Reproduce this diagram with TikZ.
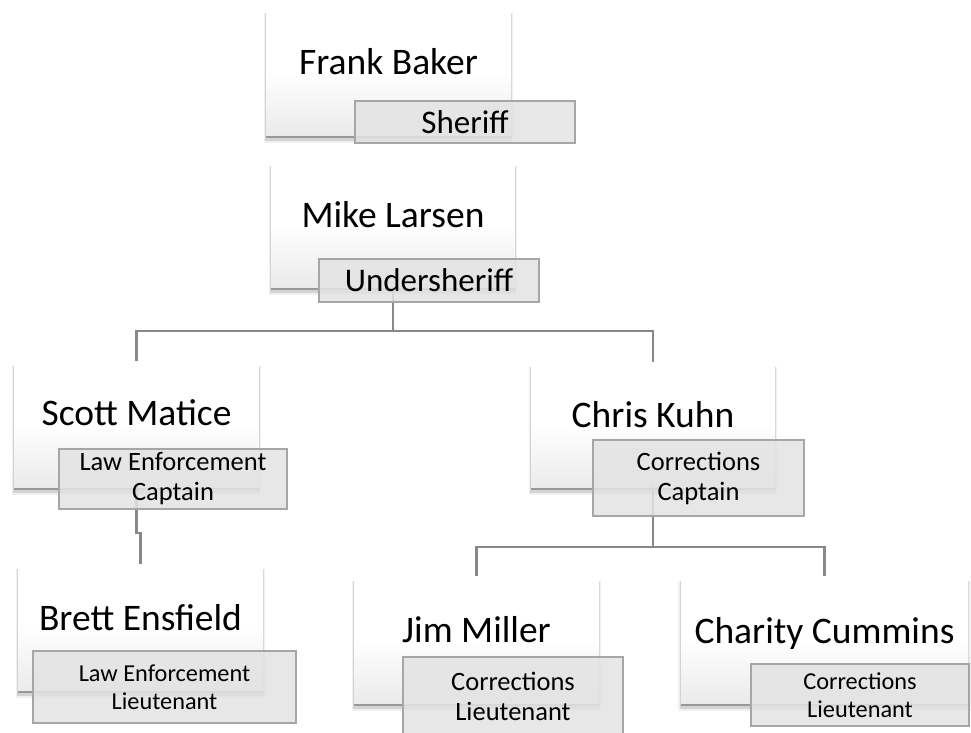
\documentclass[tikz,border=0pt]{standalone}
\usepackage{fontspec}
\setmainfont{Carlito}
\usetikzlibrary{shadows}
\definecolor{conncol}{RGB}{136,136,136}
\definecolor{titleedge}{RGB}{166,166,166}
\newcommand\nmfont{\fontsize{37.5}{44}\selectfont}
\newcommand\ttafont{\fontsize{33}{38}\selectfont}
\newcommand\ttbfont{\fontsize{26.5}{30}\selectfont}
\newcommand\ttcfont{\fontsize{24.3}{27.5}\selectfont}
\begin{document}
\begin{tikzpicture}[x=1pt,y=-1pt,
  person/.style={inner sep=0pt, draw=none,
    general shadow={fill=black, opacity=0.06, shadow xshift=0pt, shadow yshift=-6.5pt, shadow scale=1.02},
    general shadow={fill=black, opacity=0.12, shadow xshift=0pt, shadow yshift=-5pt, shadow scale=1.008},
    general shadow={fill=black, opacity=0.28, shadow xshift=0pt, shadow yshift=-3.5pt, shadow scale=0.998},
    top color=white, bottom color=black!8, middle color=white},
  nm/.style={inner sep=0pt, anchor=base, font=\nmfont, text=black},
  ttl/.style={draw=titleedge, line width=1.3pt, fill=black!11, fill opacity=0.85,
    text opacity=1, align=center, inner sep=0pt, text=black},
  conn/.style={draw=conncol, line width=2.2pt}]
\useasboundingbox (0,0) rectangle (971,732);

% person boxes
\node[person, minimum width=245pt, minimum height=127pt] (frank) at (388.5,71.5) {};
\node[person, minimum width=244pt, minimum height=126pt] (mike) at (393,224) {};
\node[person, minimum width=245pt, minimum height=126pt] (scott) at (136.5,424) {};
\node[person, minimum width=244pt, minimum height=125pt] (chris) at (653,424.5) {};
\node[person, minimum width=245pt, minimum height=126pt] (brett) at (140.5,627) {};
\node[person, minimum width=245pt, minimum height=127pt] (jim) at (476.5,639.5) {};
\node[person, minimum width=287pt, minimum height=127pt] (charity) at (824.5,639.5) {};

% connectors
\coordinate (j1) at (393,331);
\coordinate (j2) at (653,547);
\draw[conn] (mike.south) -- (j1) -| (scott.north);
\draw[conn] (j1) -| (chris.north);
\draw[conn] (scott.south) -- ++(0,46) -| (brett.north);
\draw[conn] (chris.south) -- (j2) -| (jim.north);
\draw[conn] (j2) -| (charity.north);

% names
\node[nm] (frankN) at (388.5,74) {Frank Baker};
\node[nm] (mikeN) at (393,227) {Mike Larsen};
\node[nm] (scottN) at (136.5,425) {Scott Matice};
\node[nm] (chrisN) at (653,427) {Chris Kuhn};
\node[nm] (brettN) at (140.5,630) {Brett Ensfield};
\node[nm] (jimN) at (476.5,642) {Jim Miller};
\node[nm] (charityN) at (824.5,643) {Charity Cummins};

% titles
\node[ttl, font=\ttafont, minimum width=220pt, minimum height=42pt] (frankT) at (465,122) {Sheriff};
\node[ttl, font=\ttafont, minimum width=220pt, minimum height=43pt] (mikeT) at (429,280.5) {Undersheriff};
\node[ttl, font=\ttbfont, minimum width=228pt, minimum height=60pt] (scottT) at (173,479) {Law Enforcement\\Captain};
\node[ttl, font=\ttbfont, minimum width=211pt, minimum height=76pt] (chrisT) at (698.5,478) {Corrections\\Captain};
\node[ttl, font=\ttcfont, minimum width=263pt, minimum height=72pt] (brettT) at (164.5,687) {Law Enforcement\\Lieutenant};
\node[ttl, font=\ttbfont, minimum width=220pt, minimum height=78pt] (jimT) at (513,696) {Corrections\\Lieutenant};
\node[ttl, font=\ttcfont, minimum width=218pt, minimum height=62pt] (charityT) at (860,695) {Corrections\\Lieutenant};
\end{tikzpicture}
\end{document}
